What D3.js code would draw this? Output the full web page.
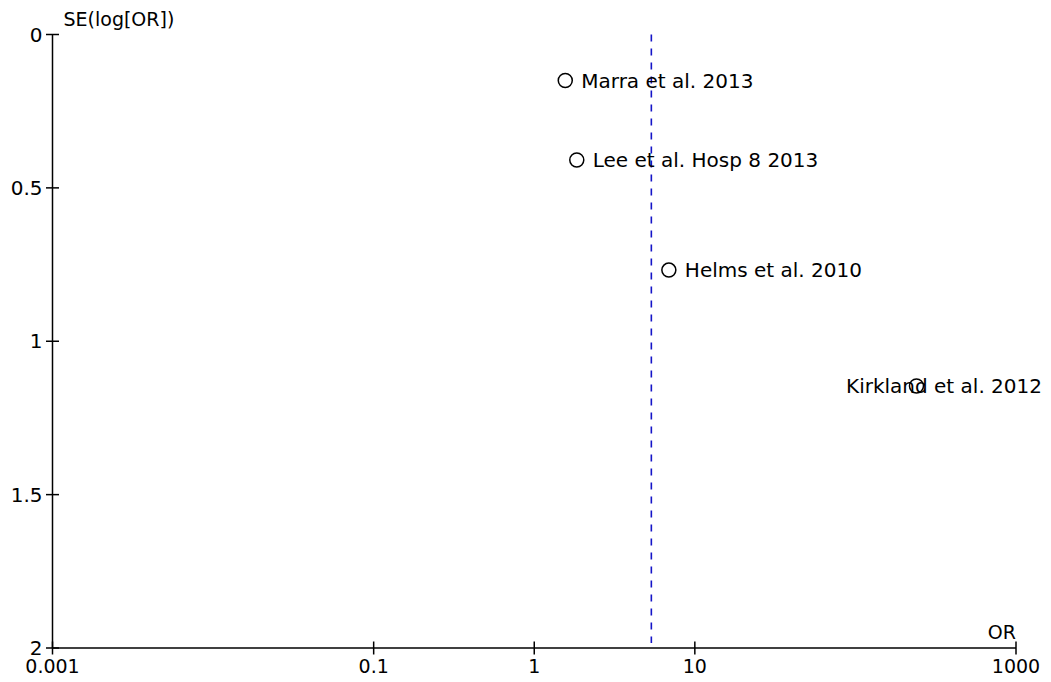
<!DOCTYPE html>
<html><head><meta charset="utf-8">
<script src="https://cdn.jsdelivr.net/npm/d3@7"></script>
<style>body{margin:0;background:#fff}svg{display:block}text{font-family:"DejaVu Sans",sans-serif;fill:#000}</style>
</head><body>
<script>
const studies = ["Marra et al. 2013","Lee et al. Hosp 8 2013","Helms et al. 2010","Kirkland et al. 2012"];
const orValues = [1.56, 1.84, 6.89, 240];
const seValues = [0.15, 0.409, 0.768, 1.146];
const pooledOR = 5.36;
const xTicks = [0.001, 0.1, 1, 10, 1000];
const xTickLabels = ["0.001","0.1","1","10","1000"];
const yTicks = [0, 0.5, 1, 1.5, 2];
const yTickLabels = ["0","0.5","1","1.5","2"];

const W = 1051, H = 682;
const svg = d3.select("body").append("svg").attr("width", W).attr("height", H);
const x = d3.scaleLog().domain([0.001, 1000]).range([52.5, 1016]);
const y = d3.scaleLinear().domain([0, 2]).range([34.5, 648]);

const g = svg.append("g").attr("stroke", "#000").attr("stroke-width", 1.5);
g.append("line").attr("x1", x(0.001)).attr("x2", x(0.001)).attr("y1", y(0)).attr("y2", y(2));
g.append("line").attr("x1", x(0.001)).attr("x2", x(1000)).attr("y1", y(2)).attr("y2", y(2));
yTicks.forEach((t, i) => {
  g.append("line").attr("x1", x(0.001) - 6.5).attr("x2", x(0.001) + 6.5).attr("y1", y(t)).attr("y2", y(t));
  svg.append("text").attr("x", x(0.001) - 10).attr("y", y(t)).attr("dy", "0.35em")
    .attr("text-anchor", "end").attr("font-size", 20).text(yTickLabels[i]);
});
xTicks.forEach((t, i) => {
  g.append("line").attr("x1", x(t)).attr("x2", x(t)).attr("y1", y(2) - 6.5).attr("y2", y(2) + 6.5);
  svg.append("text").attr("x", x(t)).attr("y", y(2) + 25)
    .attr("text-anchor", "middle").attr("font-size", 19).text(xTickLabels[i]);
});
svg.append("text").attr("x", x(0.001) + 11).attr("y", 26).attr("font-size", 19).text("SE(log[OR])");
svg.append("text").attr("x", x(1000)).attr("y", 639).attr("text-anchor", "end").attr("font-size", 19).text("OR");

svg.append("line").attr("x1", x(pooledOR)).attr("x2", x(pooledOR)).attr("y1", y(0)).attr("y2", y(2) - 5)
  .attr("stroke", "#1414c8").attr("stroke-width", 1.6).attr("stroke-dasharray", "7,7");

const pts = svg.append("g");
studies.forEach((s, i) => {
  const cx = x(orValues[i]), cy = y(seValues[i]);
  pts.append("circle").attr("cx", cx).attr("cy", cy).attr("r", 7)
    .attr("fill", "none").attr("stroke", "#000").attr("stroke-width", 1.5);
  const t = pts.append("text").attr("x", cx + 16).attr("y", cy).attr("dy", "0.35em")
    .attr("font-size", 20).text(s);
  const w = t.node().getComputedTextLength();
  if (cx + 16 + w > W - 9) t.attr("x", W - 9 - w);
});
</script>
</body></html>
